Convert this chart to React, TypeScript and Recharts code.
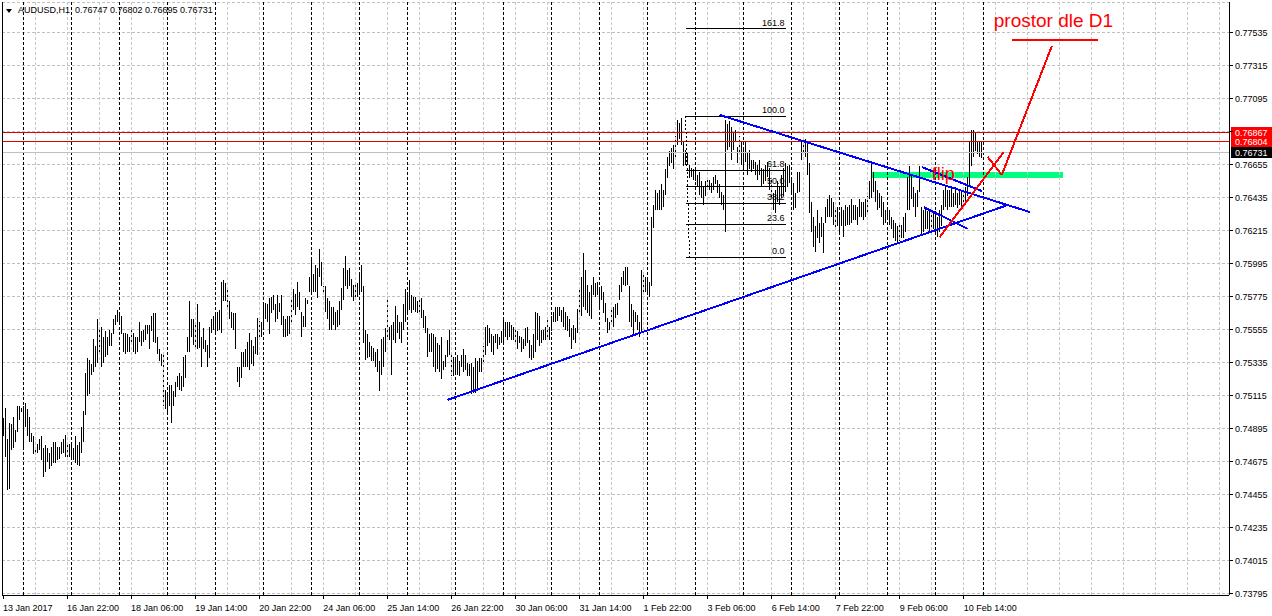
import React from "react";
import {
  Bar,
  CartesianGrid,
  ComposedChart,
  ReferenceArea,
  ReferenceDot,
  ReferenceLine,
  XAxis,
  YAxis,
} from "recharts";

// AUDUSD H1, 13 Jan – 10 Feb 2017, one entry per hourly bar (high / low)
const HIGH_W1 = [
  0.7496, 0.7503, 0.7482, 0.7493, 0.7492, 0.7497, 0.7488, 0.7504, 0.7504, 0.7503,
  0.7504, 0.7506, 0.7502, 0.7497, 0.7486, 0.7484, 0.7477, 0.7479, 0.7482, 0.7484,
  0.7476, 0.7478, 0.7476, 0.7473, 0.7477, 0.7480, 0.7480, 0.7477, 0.7477, 0.7480,
  0.7482, 0.7485, 0.7480, 0.7479, 0.7480, 0.7476, 0.7484, 0.7478, 0.7480, 0.7490,
  0.7501, 0.7526, 0.7536, 0.7535, 0.7532, 0.7549, 0.7544, 0.7562, 0.7556, 0.7557,
  0.7550, 0.7554, 0.7550, 0.7555, 0.7553, 0.7562, 0.7565, 0.7568, 0.7566, 0.7564,
  0.7553, 0.7553, 0.7552, 0.7550, 0.7555, 0.7553, 0.7550, 0.7550, 0.7560, 0.7554,
  0.7555, 0.7558, 0.7558, 0.7558, 0.7564, 0.7566, 0.7566, 0.7550, 0.7542, 0.7539,
  0.7540, 0.7515, 0.7513, 0.7518, 0.7518, 0.7514, 0.7520, 0.7524, 0.7526, 0.7524,
  0.7537, 0.7538, 0.7550, 0.7574, 0.7562, 0.7562, 0.7560, 0.7572, 0.7560, 0.7550,
  0.7556, 0.7548, 0.7545, 0.7557, 0.7562, 0.7564, 0.7566, 0.7567, 0.7568, 0.7587,
  0.7588, 0.7586, 0.7583, 0.7574, 0.7567, 0.7566, 0.7566, 0.7530, 0.7530, 0.7540,
  0.7540, 0.7542, 0.7547, 0.7553,
];
const LOW_W1 = [
  0.7484, 0.7470, 0.7448, 0.7449, 0.7475, 0.7476, 0.7480, 0.7487, 0.7495, 0.7500,
  0.7476, 0.7490, 0.7484, 0.7480, 0.7480, 0.7472, 0.7472, 0.7473, 0.7475, 0.7468,
  0.7457, 0.7460, 0.7467, 0.7462, 0.7464, 0.7466, 0.7466, 0.7468, 0.7469, 0.7472,
  0.7473, 0.7470, 0.7470, 0.7470, 0.7468, 0.7468, 0.7466, 0.7465, 0.7464, 0.7473,
  0.7480, 0.7498, 0.7511, 0.7512, 0.7525, 0.7527, 0.7530, 0.7533, 0.7538, 0.7530,
  0.7533, 0.7537, 0.7538, 0.7544, 0.7544, 0.7552, 0.7558, 0.7560, 0.7558, 0.7552,
  0.7540, 0.7539, 0.7540, 0.7540, 0.7545, 0.7540, 0.7539, 0.7540, 0.7547, 0.7544,
  0.7547, 0.7548, 0.7552, 0.7542, 0.7554, 0.7547, 0.7546, 0.7539, 0.7534, 0.7531,
  0.7504, 0.7502, 0.7498, 0.7504, 0.7493, 0.7504, 0.7510, 0.7517, 0.7515, 0.7514,
  0.7517, 0.7523, 0.7540, 0.7540, 0.7550, 0.7545, 0.7542, 0.7542, 0.7543, 0.7530,
  0.7542, 0.7540, 0.7530, 0.7536, 0.7553, 0.7555, 0.7552, 0.7554, 0.7555, 0.7553,
  0.7574, 0.7574, 0.7568, 0.7562, 0.7556, 0.7555, 0.7542, 0.7520, 0.7517, 0.7523,
  0.7530, 0.7530, 0.7530, 0.7528,
];

const HIGH_W2 = [
  0.7548, 0.7544, 0.7550, 0.7563, 0.7561, 0.7560, 0.7572, 0.7573, 0.7572, 0.7576,
  0.7577, 0.7578, 0.7572, 0.7578, 0.7573, 0.7578, 0.7564, 0.7562, 0.7564, 0.7564,
  0.7577, 0.7582, 0.7579, 0.7587, 0.7580, 0.7567, 0.7564, 0.7576, 0.7575, 0.7590,
  0.7602, 0.7592, 0.7598, 0.7596, 0.7609, 0.7600, 0.7584, 0.7584, 0.7576, 0.7574,
  0.7570, 0.7570, 0.7567, 0.7568, 0.7574, 0.7583, 0.7596, 0.7604, 0.7595, 0.7596,
  0.7589, 0.7585, 0.7586, 0.7586, 0.7593, 0.7598, 0.7584, 0.7555, 0.7552, 0.7547,
  0.7544, 0.7543, 0.7540, 0.7542, 0.7534, 0.7549, 0.7550, 0.7556, 0.7576, 0.7557,
  0.7558, 0.7560, 0.7571, 0.7565, 0.7560, 0.7560, 0.7572, 0.7582, 0.7580, 0.7588,
  0.7578, 0.7577, 0.7577, 0.7574, 0.7576, 0.7576, 0.7568, 0.7564, 0.7556, 0.7552,
  0.7553, 0.7552, 0.7550, 0.7546, 0.7545, 0.7550, 0.7534, 0.7538, 0.7548, 0.7555,
  0.7538, 0.7537, 0.7535, 0.7538, 0.7534, 0.7538, 0.7542, 0.7538, 0.7533, 0.7532,
  0.7533, 0.7530, 0.7536, 0.7534, 0.7536, 0.7536, 0.7544, 0.7557, 0.7558, 0.7556,
  0.7552, 0.7551,
];
const LOW_W2 = [
  0.7532, 0.7531, 0.7539, 0.7538, 0.7548, 0.7550, 0.7556, 0.7562, 0.7560, 0.7552,
  0.7566, 0.7568, 0.7560, 0.7562, 0.7567, 0.7558, 0.7550, 0.7550, 0.7551, 0.7552,
  0.7560, 0.7568, 0.7565, 0.7570, 0.7568, 0.7550, 0.7557, 0.7557, 0.7572, 0.7580,
  0.7580, 0.7580, 0.7580, 0.7576, 0.7590, 0.7584, 0.7579, 0.7567, 0.7562, 0.7555,
  0.7555, 0.7558, 0.7555, 0.7557, 0.7558, 0.7568, 0.7575, 0.7584, 0.7582, 0.7584,
  0.7577, 0.7574, 0.7576, 0.7577, 0.7578, 0.7580, 0.7546, 0.7535, 0.7536, 0.7537,
  0.7534, 0.7534, 0.7530, 0.7527, 0.7514, 0.7525, 0.7530, 0.7540, 0.7550, 0.7548,
  0.7525, 0.7548, 0.7546, 0.7553, 0.7549, 0.7546, 0.7555, 0.7560, 0.7566, 0.7568,
  0.7566, 0.7568, 0.7567, 0.7566, 0.7567, 0.7563, 0.7556, 0.7553, 0.7537, 0.7540,
  0.7540, 0.7530, 0.7527, 0.7529, 0.7527, 0.7522, 0.7528, 0.7530, 0.7537, 0.7538,
  0.7524, 0.7524, 0.7526, 0.7525, 0.7524, 0.7530, 0.7527, 0.7528, 0.7524, 0.7524,
  0.7512, 0.7513, 0.7513, 0.7515, 0.7527, 0.7527, 0.7532, 0.7538, 0.7544, 0.7546,
  0.7540, 0.7538,
];

const HIGH_W3 = [
  0.7552, 0.7552, 0.7550, 0.7554, 0.7562, 0.7560, 0.7560, 0.7560, 0.7558, 0.7557,
  0.7555, 0.7554, 0.7551, 0.7550, 0.7549, 0.7556, 0.7557, 0.7548, 0.7545, 0.7552,
  0.7567, 0.7566, 0.7564, 0.7555, 0.7555, 0.7557, 0.7562, 0.7557, 0.7564, 0.7567,
  0.7570, 0.7570, 0.7570, 0.7568, 0.7570, 0.7567, 0.7564, 0.7562, 0.7556, 0.7558,
  0.7556, 0.7569, 0.7582, 0.7590, 0.7606, 0.7595, 0.7585, 0.7580, 0.7585, 0.7590,
  0.7586, 0.7587, 0.7582, 0.7584, 0.7580, 0.7573, 0.7563, 0.7560, 0.7568, 0.7570,
  0.7572, 0.7573, 0.7585, 0.7590, 0.7594, 0.7597, 0.7597, 0.7584, 0.7572, 0.7568,
  0.7567, 0.7565, 0.7560, 0.7595, 0.7593, 0.7590, 0.7590, 0.7587, 0.7630, 0.7638,
  0.7648, 0.7646, 0.7648, 0.7652, 0.7648, 0.7662, 0.7670, 0.7674, 0.7676, 0.7678,
  0.7684, 0.7695, 0.7693, 0.7696, 0.7680, 0.7675, 0.7673, 0.7665, 0.7663, 0.7662,
  0.7662, 0.7658, 0.7660, 0.7654, 0.7650, 0.7654, 0.7657, 0.7655, 0.7653, 0.7657,
  0.7658, 0.7655, 0.7652, 0.7647, 0.7645, 0.7695, 0.7692, 0.7694, 0.7690, 0.7687,
  0.7688, 0.7677,
];
const LOW_W3 = [
  0.7546, 0.7542, 0.7545, 0.7546, 0.7546, 0.7550, 0.7548, 0.7550, 0.7548, 0.7548,
  0.7546, 0.7542, 0.7546, 0.7540, 0.7542, 0.7544, 0.7546, 0.7536, 0.7535, 0.7536,
  0.7540, 0.7548, 0.7544, 0.7546, 0.7548, 0.7548, 0.7548, 0.7548, 0.7554, 0.7560,
  0.7560, 0.7561, 0.7564, 0.7560, 0.7557, 0.7555, 0.7554, 0.7550, 0.7542, 0.7548,
  0.7546, 0.7553, 0.7566, 0.7564, 0.7570, 0.7568, 0.7566, 0.7564, 0.7562, 0.7578,
  0.7577, 0.7578, 0.7570, 0.7575, 0.7566, 0.7560, 0.7553, 0.7555, 0.7560, 0.7557,
  0.7563, 0.7565, 0.7575, 0.7580, 0.7585, 0.7584, 0.7585, 0.7560, 0.7557, 0.7552,
  0.7560, 0.7555, 0.7550, 0.7553, 0.7580, 0.7580, 0.7580, 0.7577, 0.7584, 0.7623,
  0.7635, 0.7635, 0.7635, 0.7635, 0.7637, 0.7645, 0.7656, 0.7664, 0.7666, 0.7662,
  0.7668, 0.7678, 0.7682, 0.7678, 0.7664, 0.7665, 0.7665, 0.7656, 0.7657, 0.7655,
  0.7654, 0.7650, 0.7645, 0.7643, 0.7638, 0.7644, 0.7648, 0.7648, 0.7646, 0.7648,
  0.7652, 0.7646, 0.7643, 0.7638, 0.7635, 0.7620, 0.7675, 0.7677, 0.7668, 0.7675,
  0.7680, 0.7666,
];

const HIGH_W4 = [
  0.7684, 0.7680, 0.7675, 0.7680, 0.7673, 0.7675, 0.7668, 0.7668, 0.7667, 0.7665,
  0.7668, 0.7663, 0.7662, 0.7665, 0.7667, 0.7663, 0.7657, 0.7646, 0.7648, 0.7654,
  0.7650, 0.7658, 0.7663, 0.7666, 0.7664, 0.7665, 0.7656, 0.7653, 0.7646, 0.7660,
  0.7660, 0.7680, 0.7680, 0.7682, 0.7680, 0.7666, 0.7640, 0.7630, 0.7624, 0.7635,
  0.7626, 0.7630, 0.7626, 0.7637, 0.7642, 0.7645, 0.7643, 0.7640, 0.7635, 0.7637,
  0.7633, 0.7637, 0.7635, 0.7638, 0.7637, 0.7638, 0.7642, 0.7638, 0.7638, 0.7637,
  0.7642, 0.7640, 0.7640, 0.7642, 0.7644, 0.7654, 0.7666, 0.7660, 0.7654, 0.7648,
  0.7646, 0.7644, 0.7640, 0.7635, 0.7637, 0.7635, 0.7630, 0.7628, 0.7626, 0.7624,
  0.7627, 0.7625, 0.7630, 0.7633, 0.7657, 0.7664, 0.7658, 0.7650, 0.7646, 0.7648,
  0.7664, 0.7637, 0.7635, 0.7637, 0.7634, 0.7635, 0.7634, 0.7633, 0.7634, 0.7630,
  0.7635, 0.7638, 0.7648, 0.7650, 0.7648, 0.7648, 0.7650, 0.7646, 0.7650, 0.7646,
  0.7648, 0.7648, 0.7647, 0.7650, 0.7657, 0.7680, 0.7688, 0.7688, 0.7687, 0.7680,
  0.7680, 0.76802,
];
const LOW_W4 = [
  0.7673, 0.7665, 0.7663, 0.7667, 0.7658, 0.7662, 0.7660, 0.7662, 0.7658, 0.7655,
  0.7658, 0.7650, 0.7652, 0.7654, 0.7657, 0.7648, 0.7643, 0.7635, 0.7633, 0.7640,
  0.7638, 0.7643, 0.7644, 0.7647, 0.7650, 0.7653, 0.7645, 0.7635, 0.7636, 0.7646,
  0.7647, 0.7668, 0.7673, 0.7670, 0.7658, 0.7633, 0.7620, 0.7610, 0.7607, 0.7616,
  0.7613, 0.7617, 0.7606, 0.7626, 0.7630, 0.7630, 0.7630, 0.7625, 0.7622, 0.7624,
  0.7620, 0.7624, 0.7617, 0.7624, 0.7625, 0.7625, 0.7626, 0.7628, 0.7628, 0.7625,
  0.7630, 0.7630, 0.7628, 0.7630, 0.7633, 0.7642, 0.7643, 0.7647, 0.7640, 0.7635,
  0.7636, 0.7630, 0.7625, 0.7626, 0.7628, 0.7625, 0.7622, 0.7616, 0.7614, 0.7612,
  0.7614, 0.7616, 0.7616, 0.7620, 0.7635, 0.7635, 0.7642, 0.7637, 0.7630, 0.7637,
  0.7647, 0.7618, 0.7620, 0.7622, 0.7622, 0.7620, 0.7622, 0.7622, 0.7620, 0.7617,
  0.7620, 0.7624, 0.7635, 0.7637, 0.7635, 0.7637, 0.7637, 0.7637, 0.7638, 0.7636,
  0.7638, 0.7637, 0.7637, 0.7640, 0.7644, 0.7650, 0.7664, 0.7670, 0.7674, 0.7672,
  0.7670, 0.76695,
];

const HIGH = [...HIGH_W1, ...HIGH_W2, ...HIGH_W3, ...HIGH_W4];
const LOW = [...LOW_W1, ...LOW_W2, ...LOW_W3, ...LOW_W4];

// chart shift: empty slots to the right of the last bar
const SLOTS = 613;

const X_TICKS = [0, 32, 64, 96, 128, 160, 192, 224, 256, 288, 320, 352, 384, 416, 448, 480];
const X_LABELS = [
  "13 Jan 2017", "16 Jan 22:00", "18 Jan 06:00", "19 Jan 14:00", "20 Jan 22:00",
  "24 Jan 06:00", "25 Jan 14:00", "26 Jan 22:00", "30 Jan 06:00", "31 Jan 14:00",
  "1 Feb 22:00", "3 Feb 06:00", "6 Feb 14:00", "7 Feb 22:00", "9 Feb 06:00", "10 Feb 14:00",
];
const Y_TICKS = [
  0.77535, 0.77315, 0.77095, 0.76875, 0.76655, 0.76435, 0.76215, 0.75995, 0.75775,
  0.75555, 0.75335, 0.75115, 0.74895, 0.74675, 0.74455, 0.74235, 0.74015, 0.73795,
];
const Y_HIDDEN = [0.76875]; // covered by the price tags
const Y_MIN = 0.737817;
const Y_MAX = 0.77735;

const DAY_SEPARATORS = [
  10, 34, 58, 82, 106, 130, 154, 178, 202, 226, 250, 274, 298, 322, 346, 370, 394, 418, 442, 466, 490,
];
const GRID_X = [
  16, 32, 48, 64, 80, 96, 112, 128, 144, 160, 176, 192, 208, 224, 240, 256, 272, 288, 304,
  320, 336, 352, 368, 384, 400, 416, 432, 448, 464, 480, 496, 512, 528, 544, 560, 576, 592, 608,
];

const RED_LEVELS = [0.76867, 0.76804];
const BID = 0.76731;

const FIB_FROM = 341;
const FIB_TO = 391;
const FIB_PRICES = [0.76033, 0.76255, 0.76393, 0.76504, 0.76615, 0.76975, 0.77557];
const FIB_NAMES = ["0.0", "23.6", "38.2", "50.0", "61.8", "100.0", "161.8"];

// [x1, y1, x2, y2] in bar index / price
const BLUE_LINES = [
  [222, 0.75082, 502, 0.76382],
  [358, 0.76982, 513, 0.76335],
  [459, 0.76635, 489, 0.76475],
  [460, 0.76368, 482, 0.76222],
];
const RED_LINES = [
  [468, 0.76168, 500, 0.76735],
  [492, 0.76702, 499, 0.76582],
  [499, 0.76582, 524, 0.77442],
  [504, 0.77482, 547, 0.77482],
];
const GREEN_ZONE = { x1: 434, x2: 529, top: 0.76602, bottom: 0.76562 };

const data = Array.from({ length: SLOTS }, (_, i) => ({
  i,
  hl: i < HIGH.length ? [LOW[i], HIGH[i]] : null,
}));

const FONT = '"Liberation Sans", Arial, sans-serif';

const HLBar = (p: any) => {
  if (!p.payload || !p.payload.hl) return <g />;
  const cx = Math.floor(p.x + p.width / 2) + 0.5;
  const top = Math.min(p.y, p.y + p.height);
  const bottom = Math.max(p.y, p.y + p.height);
  return <line x1={cx} x2={cx} y1={top} y2={bottom} stroke="#000" strokeWidth={1} />;
};

const XTick = (p: any) => {
  const k = X_TICKS.indexOf(p.payload.value);
  return (
    <text x={p.x} y={p.y + 12} fontSize={9} fill="#000">
      {X_LABELS[k]}
    </text>
  );
};

const YTick = (p: any) => {
  const v = p.payload.value;
  if (Y_HIDDEN.includes(v)) return <g />;
  return (
    <text x={p.x} y={p.y + 3.5} fontSize={9} fill="#000">
      {v.toFixed(5)}
    </text>
  );
};

// horizontal level across the plot with its price tag on the right scale
const priceTag = (value: number, bg: string, stroke: string) => (p: any) => {
  const right = Math.max(p.x1, p.x2);
  const left = Math.min(p.x1, p.x2);
  return (
    <g>
      <line x1={left} y1={p.y1} x2={right} y2={p.y2} stroke={stroke} strokeWidth={1} />
      <rect x={right + 2} y={p.y1 - 5.5} width={41} height={11} fill={bg} />
      <text x={right + 6} y={p.y1 + 3.5} fontSize={9} fill="#fff">
        {value.toFixed(5)}
      </text>
    </g>
  );
};

const fibLevel = (name: string) => (p: any) => {
  const right = Math.max(p.x1, p.x2);
  return (
    <g>
      <line x1={p.x1} y1={p.y1} x2={p.x2} y2={p.y2} stroke="#000" strokeWidth={1} />
      <text x={right - 1} y={p.y1 - 3} fontSize={9} fill="#000" textAnchor="end">
        {name}
      </text>
    </g>
  );
};

const note = (text: string, size: number) => (p: any) => (
  <text x={p.cx} y={p.cy} fontSize={size} fill="#ff0000">
    {text}
  </text>
);

export default function App() {
  return (
    <div
      style={{
        position: "absolute",
        left: 0,
        top: 0,
        width: 1272,
        height: 616,
        background: "#fff",
        fontFamily: FONT,
        shapeRendering: "crispEdges",
      }}
    >
      <ComposedChart
        width={1272}
        height={616}
        data={data}
        margin={{ top: 2, right: 0, bottom: 0, left: 0 }}
        barCategoryGap={0}
      >
        <CartesianGrid vertical={false} stroke="#c0c0c0" strokeDasharray="3 2" />
        <XAxis
          dataKey="i"
          type="category"
          ticks={X_TICKS}
          interval={0}
          height={21}
          tickSize={4}
          tickMargin={0}
          axisLine={{ stroke: "#000" }}
          tickLine={{ stroke: "#000" }}
          tick={<XTick />}
        />
        <YAxis
          orientation="right"
          type="number"
          domain={[Y_MIN, Y_MAX]}
          allowDataOverflow
          ticks={Y_TICKS}
          interval={0}
          width={43}
          tickSize={4}
          tickMargin={2}
          axisLine={{ stroke: "#000" }}
          tickLine={{ stroke: "#000" }}
          tick={<YTick />}
        />
        <YAxis
          yAxisId="frame"
          orientation="left"
          width={2}
          domain={[Y_MIN, Y_MAX]}
          tick={false}
          tickLine={false}
          axisLine={{ stroke: "#000" }}
        />

        {GRID_X.map((x) => (
          <ReferenceLine key={"g" + x} x={x} stroke="#c8c8c8" strokeDasharray="3 2" />
        ))}
        {DAY_SEPARATORS.map((x) => (
          <ReferenceLine key={"d" + x} x={x} stroke="#000" strokeDasharray="3 2" />
        ))}

        <ReferenceArea
          x1={GREEN_ZONE.x1}
          x2={GREEN_ZONE.x2}
          y1={GREEN_ZONE.bottom}
          y2={GREEN_ZONE.top}
          fill="#00ff7f"
          fillOpacity={1}
          stroke="none"
        />

        <Bar dataKey="hl" shape={HLBar} isAnimationActive={false} />

        <ReferenceLine y={BID} stroke="#c0c0c0" shape={priceTag(BID, "#000", "#c0c0c0")} />
        {RED_LEVELS.map((v) => (
          <ReferenceLine key={"r" + v} y={v} stroke="#e00000" shape={priceTag(v, "#ff0000", "#e00000")} />
        ))}

        {FIB_PRICES.map((v, k) => (
          <ReferenceLine
            key={"f" + k}
            segment={[
              { x: FIB_FROM, y: v },
              { x: FIB_TO, y: v },
            ]}
            stroke="#000"
            shape={fibLevel(FIB_NAMES[k])}
          />
        ))}
        <ReferenceLine
          segment={[
            { x: FIB_FROM, y: FIB_PRICES[5] },
            { x: FIB_FROM + 2, y: FIB_PRICES[0] },
          ]}
          stroke="#000"
          strokeDasharray="2 2"
        />

        {BLUE_LINES.map((l, k) => (
          <ReferenceLine
            key={"b" + k}
            segment={[
              { x: l[0], y: l[1] },
              { x: l[2], y: l[3] },
            ]}
            stroke="#0000ff"
            strokeWidth={2}
          />
        ))}
        {RED_LINES.map((l, k) => (
          <ReferenceLine
            key={"rl" + k}
            segment={[
              { x: l[0], y: l[1] },
              { x: l[2], y: l[3] },
            ]}
            stroke="#ff0000"
            strokeWidth={2}
          />
        ))}

        <ReferenceDot x={464} y={0.76548} r={0} shape={note("flip", 18)} />
        <ReferenceDot x={495} y={0.77568} r={0} shape={note("prostor dle D1", 19)} />
      </ComposedChart>

      <div
        style={{
          position: "absolute",
          left: 6,
          top: 9,
          width: 0,
          height: 0,
          borderLeft: "3px solid transparent",
          borderRight: "3px solid transparent",
          borderTop: "4px solid #000",
        }}
      />
      <div
        style={{
          position: "absolute",
          left: 18,
          top: 5,
          fontSize: 9,
          lineHeight: "10px",
          whiteSpace: "pre",
          color: "#000",
        }}
      >
        AUDUSD,H1  0.76747 0.76802 0.76695 0.76731
      </div>
    </div>
  );
}
